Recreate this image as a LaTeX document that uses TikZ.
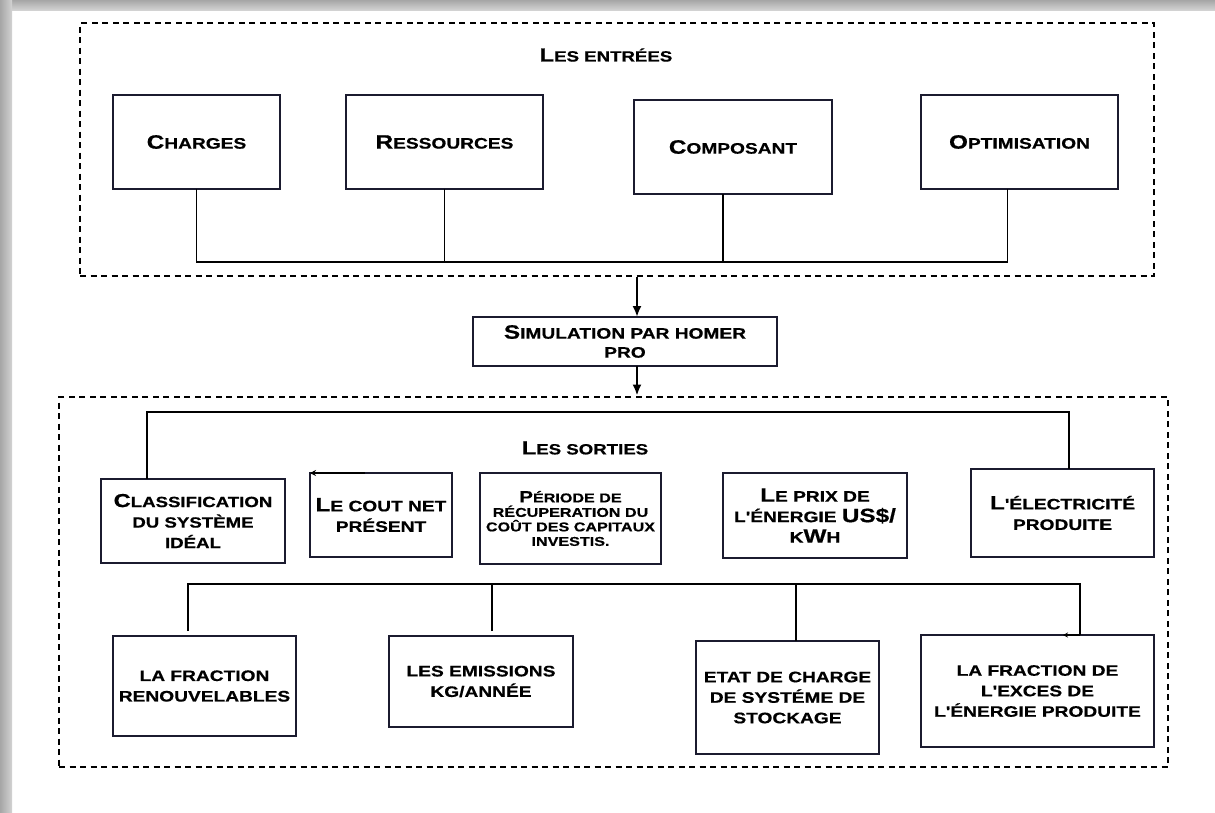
\documentclass[tikz,border=0pt]{standalone}
\usepackage{fontspec}
\newfontfamily\copper[FakeStretch=1.26,FakeBold=0.6]{Liberation Sans}
\usetikzlibrary{arrows.meta,calc}
\definecolor{boxline}{HTML}{1B1B2F}
\newcommand{\up}[1]{\scalebox{1.27}{#1}}

\begin{document}
\begin{tikzpicture}[x=1pt,y=-1pt,>={Latex[length=11pt,width=9pt]},every node/.style={font=\copper\bfseries\fontsize{15.2}{20.5}\selectfont},box/.style={draw=boxline,line width=2.6pt,outer sep=0pt,align=center,inner sep=2pt},frame/.style={draw,line width=2.8pt,dash pattern=on 6pt off 4.5pt},title/.style={font=\copper\bfseries\fontsize{14.8}{18}\selectfont},small/.style={font=\copper\bfseries\fontsize{12.8}{14.5}\selectfont},link/.style={line width=1.8pt},flow/.style={line width=2.6pt,->},]
\useasboundingbox (0,0) rectangle (1215,812);
% page border
\shade[top color=gray!70,bottom color=gray!35] (0,0) rectangle (1215,10);
\shade[left color=gray!70,right color=gray!35] (0,0) rectangle (12,812);
% inputs
\node[frame,minimum width=1074pt,minimum height=253pt] (inputs) at (617,149.5) {};
\node[title] (tin) at (606,55) {\up{L}ES ENTRÉES};
\node[box,minimum width=167pt,minimum height=94pt] (charges) at (196.5,142) {\up{C}HARGES};
\node[box,minimum width=197pt,minimum height=94pt] (ressources) at (444.5,142) {\up{R}ESSOURCES};
\node[box,minimum width=198pt,minimum height=94pt] (composant) at (733,147) {\up{C}OMPOSANT};
\node[box,minimum width=197pt,minimum height=94pt] (optim) at (1019.5,142) {\up{O}PTIMISATION};
\coordinate (busin) at (0,262);
\coordinate (k3) at ($(composant.south)+(-10,0)$);
\coordinate (k4) at ($(optim.south)+(-12,0)$);
\draw[link] (charges.south) |- (busin -| k4) -- (k4);
\draw[link] (ressources.south) -- (ressources.south |- busin);
\draw[link] (k3) -- (k3 |- busin);
% simulation
\node[box,minimum width=304pt,minimum height=49pt,font=\copper\bfseries\fontsize{15.2}{19}\selectfont] (simul) at (625,341.5) {\up{S}IMULATION PAR HOMER\\PRO};
\node[frame,minimum width=1109pt,minimum height=370pt] (outputs) at (613.5,582) {};
\coordinate (ax) at (637,0);
\draw[flow] (inputs.south -| ax) -- (simul.north -| ax);
\draw[flow] (simul.south -| ax) -- (outputs.north -| ax);
% outputs
\node[title] (tout) at (585,448) {\up{L}ES SORTIES};
\node[box,minimum width=184pt,minimum height=84pt,font=\copper\bfseries\fontsize{14.8}{20.5}\selectfont] (classif) at (193,521) {\up{C}LASSIFICATION\\DU SYSTÈME\\IDÉAL};
\node[box,minimum width=142pt,minimum height=84pt] (cout) at (381,515) {\up{L}E COUT NET\\PRÉSENT};
\node[box,small,minimum width=181pt,minimum height=91pt] (periode) at (570.5,518.5) {\up{P}ÉRIODE DE\\RÉCUPERATION DU\\COÛT DES CAPITAUX\\INVESTIS.};
\node[box,minimum width=184pt,minimum height=85pt] (prix) at (815,515.5) {\up{L}E PRIX DE\\L'ÉNERGIE \up{US\$/}\\K\up{W}H};
\node[box,minimum width=183pt,minimum height=88pt] (elec) at (1062.5,513) {\up{L}'ÉLECTRICITÉ\\PRODUITE};
\coordinate (busout) at (0,412);
\coordinate (c1) at ($(classif.north)+(-46,0)$);
\coordinate (c2) at ($(elec.north)+(6.5,0)$);
\draw[link] (c1) |- (busout -| c2) -- (c2);
\draw[link,-{Stealth[length=6pt,width=6pt]}] ($(cout.north west)+(55,0)$) -- (cout.north west);
% second row
\node[box,minimum width=183pt,minimum height=100pt] (frac) at (204.5,686) {LA FRACTION\\RENOUVELABLES};
\node[box,minimum width=184pt,minimum height=91pt] (emis) at (481,681.5) {LES EMISSIONS\\KG/ANNÉE};
\node[box,minimum width=183pt,minimum height=113pt] (etat) at (787.5,697.5) {ETAT DE CHARGE\\DE SYSTÉME DE\\STOCKAGE};
\node[box,minimum width=233pt,minimum height=112pt] (exces) at (1037.5,691) {LA FRACTION DE\\L'EXCES DE\\L'ÉNERGIE PRODUITE};
\coordinate (busrow) at (0,584);
\coordinate (d1) at ($(frac.north)+(-16.5,-5)$);
\coordinate (d2) at ($(emis.north)+(11,-5)$);
\coordinate (d3) at ($(etat.north)+(8.5,0)$);
\coordinate (d4) at ($(exces.north)+(42.5,0)$);
\draw[link] (d1) |- (busrow -| d4) -- (d4);
\draw[link] (d2) -- (d2 |- busrow);
\draw[link] (d3) -- (d3 |- busrow);
\draw[link,-{Stealth[length=5pt,width=5pt]}] (d4) -- ++(-17,0);
\end{tikzpicture}
\end{document}
